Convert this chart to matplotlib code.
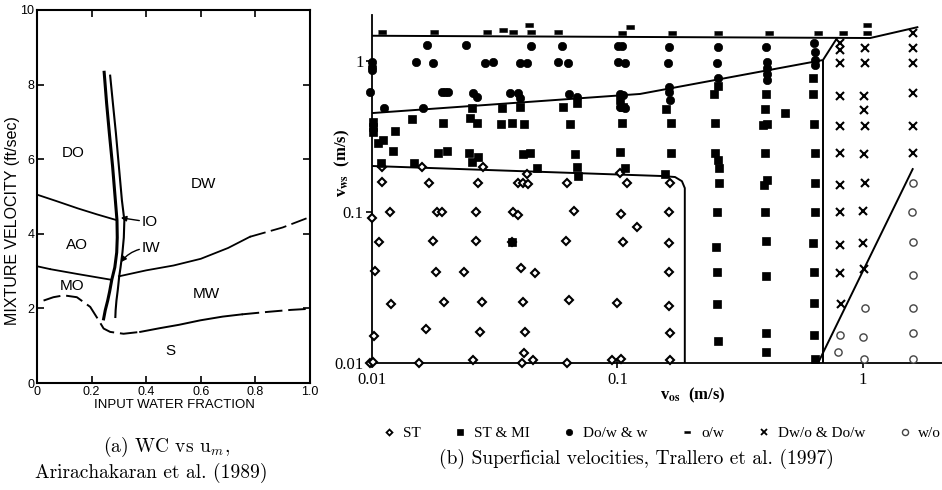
import matplotlib
matplotlib.use('Agg')
import matplotlib.pyplot as plt
from matplotlib.lines import Line2D
from matplotlib.ticker import NullLocator

# ---------------- panel (a): Arirachakaran et al. (1989) ----------------
xa_ticks = [0, 0.2, 0.4, 0.6, 0.8, 1.0]
xa_ticklabels = ['0', '0.2', '0.4', '0.6', '0.8', '1.0']
ya_ticks = [0, 2, 4, 6, 8, 10]
ya_ticklabels = ['0', '2', '4', '6', '8', '10']

io_x = [0.246, 0.255, 0.265, 0.277, 0.287, 0.293, 0.294, 0.292, 0.285, 0.274, 0.266, 0.259, 0.250, 0.244]
io_y = [8.33, 7.5, 6.7, 5.8, 4.9, 4.36, 3.9, 3.5, 3.1, 2.77, 2.45, 2.21, 1.95, 1.72]
iw_x = [0.268, 0.278, 0.289, 0.300, 0.311, 0.320, 0.318, 0.313, 0.306, 0.301, 0.296, 0.291, 0.288, 0.287]
iw_y = [8.24, 7.5, 6.7, 5.8, 4.9, 4.36, 3.9, 3.5, 3.1, 2.85, 2.5, 2.21, 1.95, 1.77]

do_ao_x = [0, 0.07, 0.15, 0.22, 0.29]
do_ao_y = [5.05, 4.88, 4.68, 4.52, 4.37]
ao_mo_dash_x = [0, 0.05]
ao_mo_dash_y = [3.13, 3.05]
ao_mo_x = [0.05, 0.15, 0.27]
ao_mo_y = [3.05, 2.92, 2.77]
dw_mw_x = [0.30, 0.40, 0.50, 0.60, 0.70, 0.78]
dw_mw_y = [2.86, 3.02, 3.15, 3.33, 3.62, 3.92]
dw_mw_dash_x = [0.78, 0.90, 1.0]
dw_mw_dash_y = [3.92, 4.17, 4.45]
mo_s_dash_x = [0.024, 0.06, 0.098, 0.146, 0.195, 0.226, 0.244, 0.268, 0.317, 0.378]
mo_s_dash_y = [2.21, 2.30, 2.35, 2.30, 2.04, 1.68, 1.46, 1.37, 1.32, 1.37]
mw_s_x = [0.378, 0.45, 0.52, 0.598, 0.68, 0.75]
mw_s_y = [1.37, 1.47, 1.56, 1.68, 1.78, 1.84]
mw_s_dash_x = [0.75, 0.85, 0.93, 1.0]
mw_s_dash_y = [1.84, 1.91, 1.96, 1.99]

region_labels = ['DO', 'DW', 'AO', 'MO', 'MW', 'S']
region_x = [0.134, 0.61, 0.146, 0.128, 0.62, 0.49]
region_y = [6.16, 5.34, 3.70, 2.60, 2.39, 0.87]

# ---------------- panel (b): Trallero et al. (1997) ----------------
xb_ticks = [0.01, 0.1, 1]
xb_ticklabels = ['0.01', '0.1', '1']
yb_ticks = [0.01, 0.1, 1]
yb_ticklabels = ['0.01', '0.1', '1']

st_x = [0.0110, 0.0110, 0.0160, 0.0171, 0.0283, 0.0270, 0.0428, 0.0393, 0.0412, 0.0432, 0.0622, 0.102, 0.109,
        0.0118, 0.0184, 0.0193, 0.0265, 0.0375, 0.0393, 0.0665, 0.103, 0.120, 0.0100,
        0.0107, 0.0177, 0.0265, 0.0371, 0.0617, 0.105,
        0.0103, 0.0182, 0.0237, 0.0404, 0.0461,
        0.0120, 0.0197, 0.0281, 0.0412, 0.0635, 0.0995,
        0.0102, 0.0166, 0.0275, 0.0420, 0.0416,
        0.0098, 0.0101, 0.0155, 0.0258, 0.0408, 0.0453, 0.0622, 0.0950, 0.103,
        0.164, 0.162, 0.162, 0.162, 0.162, 0.164, 0.164]
st_y = [0.199, 0.158, 0.199, 0.156, 0.199, 0.156, 0.178, 0.156, 0.156, 0.153, 0.156, 0.181, 0.156,
        0.100, 0.100, 0.100, 0.100, 0.100, 0.0954, 0.101, 0.0968, 0.0796, 0.0912,
        0.0633, 0.0643, 0.0643, 0.0633, 0.0643, 0.0633,
        0.0407, 0.0400, 0.0400, 0.0426, 0.0394,
        0.0246, 0.0254, 0.0254, 0.0254, 0.0261, 0.0250,
        0.0151, 0.0168, 0.0160, 0.0160, 0.0116,
        0.0100, 0.0102, 0.0100, 0.0105, 0.0100, 0.0105, 0.0100, 0.0105, 0.0106,
        0.156, 0.100, 0.0623, 0.0400, 0.0239, 0.0158, 0.0105]

stmi_x = [0.0101, 0.0101, 0.0101, 0.0124, 0.0146, 0.0195, 0.0251, 0.0268, 0.0335, 0.0371, 0.0416, 0.0641, 0.104,
          0.0106, 0.0111, 0.0122, 0.0186, 0.0202, 0.0248, 0.0270, 0.0255, 0.0412, 0.0440, 0.0671, 0.102,
          0.0109, 0.0148, 0.0470, 0.0685, 0.0690, 0.107,
          0.0255, 0.0338, 0.0400, 0.0600, 0.0685, 0.102, 0.105,
          0.257, 0.247, 0.402, 0.625, 0.625, 0.157, 0.399, 0.483, 0.165, 0.249, 0.392, 0.407, 0.632,
          0.165, 0.249, 0.257, 0.259, 0.399, 0.638, 0.156, 0.407, 0.395, 0.259, 0.638, 0.254, 0.399, 0.638,
          0.252, 0.402, 0.625, 0.254, 0.402, 0.632, 0.254, 0.632, 0.257, 0.402, 0.402, 0.632, 0.638,
          0.0371]
stmi_y = [0.394, 0.365, 0.339, 0.345, 0.413, 0.389, 0.420, 0.389, 0.383, 0.389, 0.383, 0.383, 0.389,
          0.286, 0.300, 0.254, 0.246, 0.254, 0.246, 0.231, 0.214, 0.242, 0.246, 0.242, 0.250,
          0.211, 0.211, 0.196, 0.199, 0.173, 0.196,
          0.489, 0.489, 0.493, 0.493, 0.527, 0.552, 0.493,
          0.683, 0.605, 0.605, 0.772, 0.605, 0.481, 0.481, 0.452, 0.389, 0.389, 0.377, 0.383, 0.383,
          0.246, 0.246, 0.220, 0.196, 0.246, 0.246, 0.178, 0.163, 0.151, 0.156, 0.156, 0.100, 0.100, 0.100,
          0.0586, 0.0643, 0.0623, 0.0400, 0.0377, 0.0400, 0.0246, 0.0250, 0.0140, 0.0158, 0.0118, 0.0153, 0.0106,
          0.0633]

dow_x = [0.0167, 0.0241, 0.0444, 0.0594, 0.1005, 0.104,
         0.162, 0.257, 0.402, 0.632, 0.638, 0.638, 0.638,
         0.0100, 0.0151, 0.0177, 0.0289, 0.0311, 0.0400, 0.0428, 0.0572, 0.0629, 0.1005, 0.107,
         0.161, 0.254, 0.407, 0.407, 0.407, 0.407, 0.257, 0.0100, 0.0100,
         0.0098, 0.0193, 0.0198, 0.0204, 0.0258, 0.0268, 0.0365, 0.0393, 0.0400, 0.0635, 0.0685, 0.102, 0.105,
         0.162, 0.162, 0.164,
         0.0112, 0.0161, 0.102, 0.107]
dow_y = [1.27, 1.27, 1.26, 1.26, 1.25, 1.25,
         1.24, 1.24, 1.24, 1.32, 1.15, 1.015, 0.94,
         0.98, 0.98, 0.97, 0.97, 0.98, 0.97, 0.97, 0.98, 0.97, 0.98, 0.97,
         0.97, 0.97, 0.98, 0.90, 0.82, 0.75, 0.77, 0.91, 0.87,
         0.62, 0.62, 0.62, 0.62, 0.61, 0.58, 0.61, 0.61, 0.57, 0.605, 0.58, 0.605, 0.594,
         0.67, 0.62, 0.55,
         0.49, 0.49, 0.493, 0.489]

ow_x = [0.011, 0.0179, 0.0294, 0.0342, 0.0375, 0.0436, 0.0444, 0.0572, 0.104, 0.112, 0.167, 0.257, 0.414, 0.656, 0.829, 1.04, 1.04]
ow_y = [1.55, 1.56, 1.55, 1.60, 1.55, 1.73, 1.55, 1.55, 1.53, 1.68, 1.53, 1.53, 1.53, 1.53, 1.53, 1.73, 1.53]

dwo_x = [0.806, 0.806, 1.02, 1.60, 1.60, 0.806, 1.02, 1.60, 0.806, 1.01, 1.60, 1.01, 0.806, 1.02, 1.60,
         0.806, 1.01, 1.60, 0.806, 1.02, 0.806, 1.00, 0.806, 1.00, 0.806, 1.01, 0.813]
dwo_y = [1.32, 1.18, 1.22, 1.53, 1.22, 0.97, 0.97, 0.97, 0.587, 0.587, 0.613, 0.471, 0.371, 0.371, 0.371,
         0.246, 0.242, 0.246, 0.151, 0.156, 0.100, 0.101, 0.0605, 0.0623, 0.0394, 0.0419, 0.0246]

wo_x = [1.60, 1.58, 1.60, 1.60, 1.02, 1.60, 0.806, 1.00, 1.60, 0.791, 1.01, 1.60]
wo_y = [0.156, 0.100, 0.0633, 0.0383, 0.0231, 0.0231, 0.0153, 0.0149, 0.0158, 0.0118, 0.0106, 0.0106]

# boundary lines of the map
top_x = [0.01, 1.07, 1.68]
top_y = [1.47, 1.42, 1.68]
updiag_x = [0.687, 0.784]
updiag_y = [1.015, 1.42]
mid_x = [0.01, 0.1235, 0.687]
mid_y = [0.452, 0.605, 1.015]
low_x = [0.01, 0.153, 0.1715, 0.183, 0.188, 0.188]
low_y = [0.2017, 0.173, 0.1705, 0.160, 0.144, 0.01]
vert_x = [0.687, 0.687]
vert_y = [1.015, 0.01]
rdiag_x = [0.656, 1.60]
rdiag_y = [0.01, 0.195]

legend_labels = ['ST', 'ST & MI', 'Do/w & w', 'o/w', 'Dw/o & Do/w', 'w/o']

# =====================================================================
plt.rcParams['font.family'] = ['Liberation Serif', 'DejaVu Serif']
W, H = 942, 490
fig = plt.figure(figsize=(W / 100, H / 100), dpi=100)

# ---------------- panel (a) ----------------
sans = ['Liberation Sans', 'DejaVu Sans']
axa = fig.add_axes([37 / W, 107 / H, 273 / W, 373 / H])
axa.set_xlim(0, 1.0)
axa.set_ylim(0, 10)
axa.set_xticks(xa_ticks)
axa.set_xticklabels(xa_ticklabels, family=sans, fontsize=9)
axa.set_yticks(ya_ticks)
axa.set_yticklabels(ya_ticklabels, family=sans, fontsize=9)
axa.tick_params(direction='in', top=True, right=True, length=5, width=1.2, pad=2)
for s in axa.spines.values():
    s.set_linewidth(1.5)

axa.plot(io_x, io_y, color='k', lw=2.2)
axa.plot(iw_x, iw_y, color='k', lw=1.5)
axa.plot(do_ao_x, do_ao_y, color='k', lw=1.3)
axa.plot(ao_mo_dash_x, ao_mo_dash_y, color='k', lw=1.3, dashes=(8, 3))
axa.plot(ao_mo_x, ao_mo_y, color='k', lw=1.3)
axa.plot(dw_mw_x, dw_mw_y, color='k', lw=1.3)
axa.plot(dw_mw_dash_x, dw_mw_dash_y, color='k', lw=1.3, dashes=(9, 3))
axa.plot(mo_s_dash_x, mo_s_dash_y, color='k', lw=1.4, dashes=(9, 3))
axa.plot(mw_s_x, mw_s_y, color='k', lw=1.4)
axa.plot(mw_s_dash_x, mw_s_dash_y, color='k', lw=1.4, dashes=(9, 3))

for lab, x, y in zip(region_labels, region_x, region_y):
    axa.text(x, y, lab, family=sans, fontsize=11, ha='center', va='center')

axa.annotate('IO', xy=(0.307, 4.43), xytext=(0.385, 4.31), family=sans, fontsize=11,
             ha='left', va='center',
             arrowprops=dict(arrowstyle='-|>', color='k', lw=1.0, mutation_scale=8,
                             shrinkA=0, shrinkB=0))
axa.annotate('IW', xy=(0.307, 3.24), xytext=(0.385, 3.62), family=sans, fontsize=11,
             ha='left', va='center',
             arrowprops=dict(arrowstyle='-|>', color='k', lw=1.0, mutation_scale=8,
                             shrinkA=0, shrinkB=0, connectionstyle='arc3,rad=0.25'))

fig.text(174 / W, 1 - 405 / H, 'INPUT WATER FRACTION', family=sans, fontsize=9.5,
         ha='center', va='center')
fig.text(13 / W, 1 - 221 / H, 'MIXTURE VELOCITY (ft/sec)', family=sans, fontsize=11.5,
         ha='center', va='center', rotation=90)

# ---------------- panel (b) ----------------
axb = fig.add_axes([372 / W, 127 / H, 570 / W, 348 / H])
axb.set_xscale('log')
axb.set_yscale('log')
axb.set_xlim(0.01, 2.098)
axb.set_ylim(0.01, 2.017)
axb.spines['top'].set_visible(False)
axb.spines['right'].set_visible(False)
axb.spines['left'].set_linewidth(1.3)
axb.spines['bottom'].set_linewidth(1.3)
axb.set_xticks(xb_ticks)
axb.set_xticklabels(xb_ticklabels, fontsize=12)
axb.set_yticks(yb_ticks)
axb.set_yticklabels(yb_ticklabels, fontsize=12)
axb.xaxis.set_minor_locator(NullLocator())
axb.yaxis.set_minor_locator(NullLocator())
axb.tick_params(axis='x', direction='inout', length=7, width=1.2, pad=3)
axb.tick_params(axis='y', direction='out', length=4, width=1.2, pad=2)

lk = dict(color='k', lw=1.4, solid_capstyle='butt')
axb.plot(top_x, top_y, **lk)
axb.plot(updiag_x, updiag_y, **lk)
axb.plot(mid_x, mid_y, **lk)
axb.plot(low_x, low_y, **lk)
axb.plot(vert_x, vert_y, **lk)
axb.plot(rdiag_x, rdiag_y, **lk)

dash_marker = [(-1, -0.4), (1, -0.4), (1, 0.4), (-1, 0.4)]
styles = [
    dict(marker='D', ms=3.8, mfc='white', mec='k', mew=1.5),
    dict(marker='s', ms=5.4, mfc='k', mec='k', mew=0.5),
    dict(marker='o', ms=6.0, mfc='k', mec='k', mew=0.5),
    dict(marker=dash_marker, ms=6.0, mfc='k', mec='k', mew=0.4),
    dict(marker='x', ms=5.8, mfc='k', mec='k', mew=1.5),
    dict(marker='o', ms=5.2, mfc='white', mec='#444444', mew=1.0),
]
series = [(st_x, st_y), (stmi_x, stmi_y), (dow_x, dow_y), (ow_x, ow_y), (dwo_x, dwo_y), (wo_x, wo_y)]
for (xs, ys), st in zip(series, styles):
    axb.plot(xs, ys, ls='none', clip_on=False, zorder=3, **st)

fig.text(693 / W, 1 - 395 / H, r'v$_{\mathbf{os}}$  (m/s)', fontsize=12, fontweight='bold',
         ha='center', va='center', math_fontfamily='stix')
fig.text(342 / W, 1 - 163 / H, r'v$_{\mathbf{ws}}$  (m/s)', fontsize=12, fontweight='bold',
         ha='center', va='center', rotation=90, math_fontfamily='stix')

legend_styles = [
    dict(marker='D', ms=3.0, mfc='white', mec='k', mew=1.3),
    dict(marker='s', ms=4.2, mfc='k', mec='k', mew=0.5),
    dict(marker='o', ms=4.6, mfc='k', mec='k', mew=0.5),
    dict(marker=dash_marker, ms=5.0, mfc='k', mec='k', mew=0.4),
    dict(marker='x', ms=5.0, mfc='k', mec='k', mew=1.3),
    dict(marker='o', ms=4.4, mfc='white', mec='#444444', mew=1.0),
]
handles = [Line2D([], [], ls='none', **st) for st in legend_styles]
fig.legend(handles, legend_labels, loc='center', bbox_to_anchor=(662 / W, 1 - 433 / H),
           ncol=6, frameon=False, fontsize=11, handlelength=0.8, handletextpad=0.5,
           columnspacing=2.2, borderaxespad=0, borderpad=0)

# ---------------- captions ----------------
cap = dict(family='cmr10', math_fontfamily='cm', fontsize=14, va='center')
fig.text(103 / W, 1 - 447 / H, r'(a) WC vs u$_m$,', ha='left', **cap)
fig.text(35 / W, 1 - 473 / H, 'Arirachakaran et al. (1989)', ha='left', **cap)
fig.text(636 / W, 1 - 459 / H, '(b) Superficial velocities, Trallero et al. (1997)', ha='center', **cap)

fig.savefig('out.png', dpi=100)
